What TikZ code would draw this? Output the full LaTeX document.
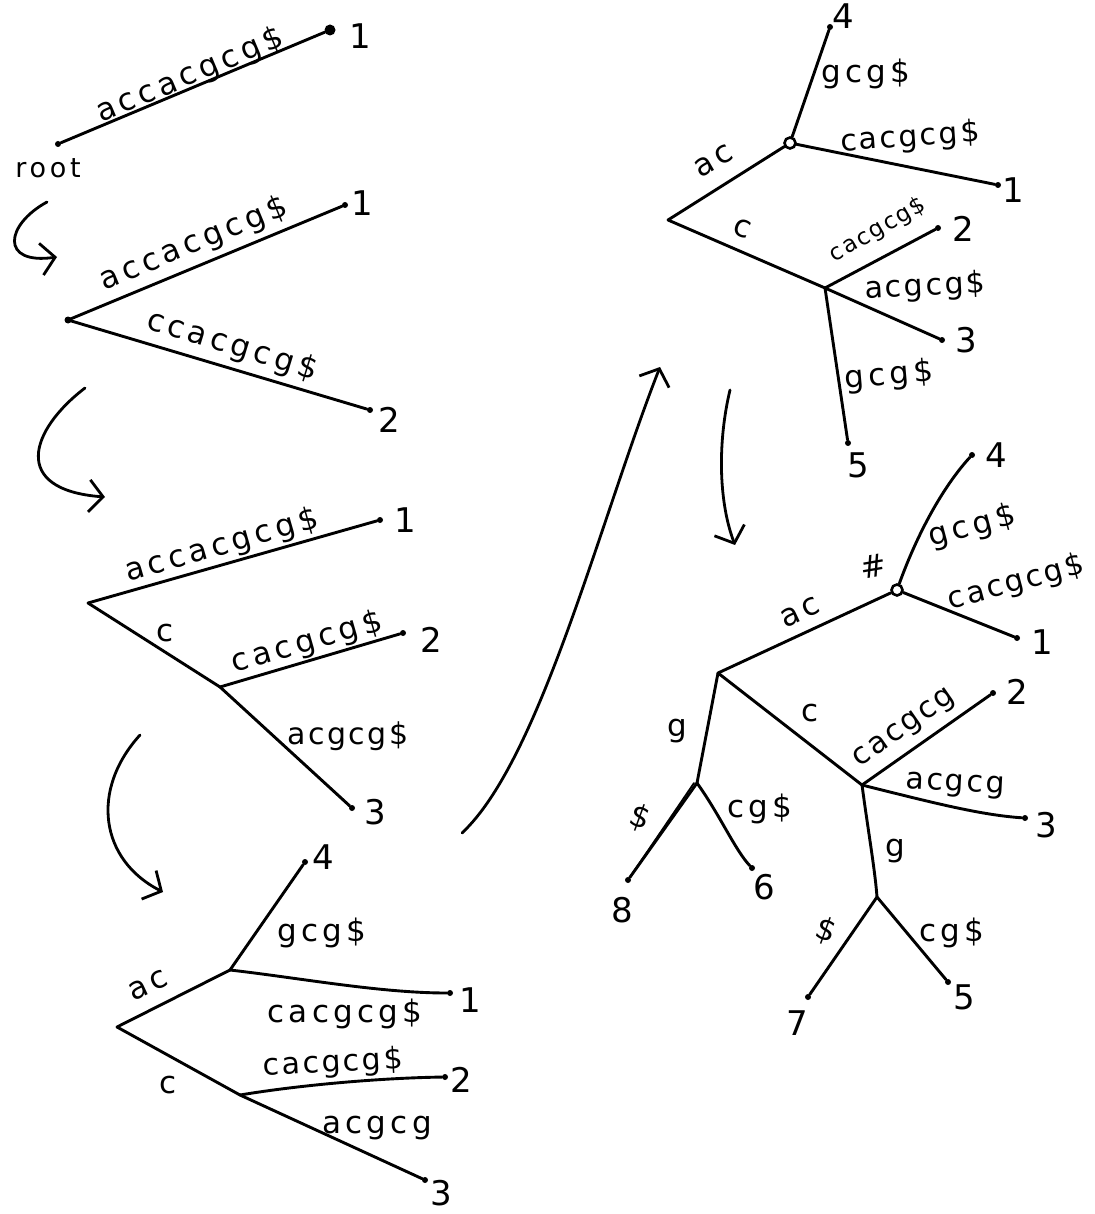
\documentclass[tikz,border=0pt]{standalone}
\usepackage{fontspec}
\setmainfont{DejaVu Sans}
\newfontfamily\hand[LetterSpace=14]{DejaVu Sans}
\newfontfamily\handtight[LetterSpace=8]{DejaVu Sans}
\usetikzlibrary{arrows.meta}
\begin{document}
\begin{tikzpicture}[x=1pt,y=-1pt,
  edge/.style={line width=2.9pt, line cap=round, line join=round},
  lab/.style={font=\hand\fontsize{31}{33}\selectfont, inner sep=0pt},
  tlab/.style={font=\handtight\fontsize{30}{32}\selectfont, inner sep=0pt},
  slab/.style={font=\handtight\fontsize{23}{25}\selectfont, inner sep=0pt},
  num/.style={font=\fontsize{34}{36}\selectfont, inner sep=0pt},
  dot/.style={circle, fill, inner sep=0pt, minimum size=6pt},
  bigdot/.style={circle, fill, inner sep=0pt, minimum size=11pt},
  ring/.style={circle, draw, line width=2.6pt, inner sep=0pt, minimum size=11pt},
  harrow/.style={line width=2.8pt, line cap=round, -{Straight Barb[length=14pt,width=32pt,line width=2.8pt]}}
]
\useasboundingbox[fill=white] (0,0) rectangle (1094,1214);

% ---------------- Tree 1 ----------------
\node[dot] (t1r) at (58,144) {};
\node[bigdot] (t1l1) at (330,30) {};
\node[num] (t1n1) at (360,36) {1};
\node[lab, font=\hand\fontsize{27}{29}\selectfont] (t1root) at (48,168) {root};
\node[lab, rotate=23] (t1e1) at (190,76) {accacgcg\$};
\draw[edge] (t1r) -- (t1l1);

% arrow 1
\coordinate (a1s) at (47,202);
\coordinate (a1e) at (57,257);
\draw[harrow] (a1s) .. controls (5,225) and (0,265) .. (a1e);

% ---------------- Tree 2 ----------------
\coordinate (t2r) at (68,320);
\node[dot] (t2l1) at (345,205) {};
\node[dot] (t2l2) at (370,410) {};
\node[num] (t2n1) at (362,203) {1};
\node[num] (t2n2) at (389,420) {2};
\node[lab, rotate=22.5] (t2e1) at (194,244) {accacgcg\$};
\node[lab, rotate=-17] (t2e2) at (232,346) {ccacgcg\$};
\draw[edge] (t2r) -- (t2l1);
\draw[edge] (t2r) -- (t2l2);
\fill (t2r) circle (3.5pt);

% arrow 2
\coordinate (a2s) at (85,388);
\coordinate (a2e) at (105,497);
\draw[harrow] (a2s) .. controls (30,430) and (10,490) .. (a2e);

% ---------------- Tree 3 ----------------
\coordinate (t3r) at (88,603);
\coordinate (t3a) at (220,687);
\node[dot] (t3l1) at (380,520) {};
\node[dot] (t3l2) at (403,633) {};
\node[dot] (t3l3) at (352,808) {};
\node[num] (t3n1) at (405,520) {1};
\node[num] (t3n2) at (431,640) {2};
\node[num] (t3n3) at (375,812) {3};
\node[lab, rotate=16] (t3e1) at (222,546) {accacgcg\$};
\node[lab] (t3ec) at (165,633) {c};
\node[lab, rotate=16] (t3e2) at (307,643) {cacgcg\$};
\node[tlab] (t3e3) at (348,736) {acgcg\$};
\draw[edge] (t3r) -- (t3l1);
\draw[edge] (t3r) -- (t3a);
\draw[edge] (t3a) -- (t3l2);
\draw[edge] (t3a) -- (t3l3);

% arrow 3
\coordinate (a3s) at (140,735);
\coordinate (a3e) at (163,892);
\draw[harrow] (a3s) .. controls (90,790) and (100,860) .. (a3e);

% ---------------- Tree 4 ----------------
\coordinate (t4r) at (117,1027);
\coordinate (t4a) at (230,970);
\coordinate (t4b) at (240,1095);
\node[dot] (t4l4) at (305,862) {};
\node[dot] (t4l1) at (450,993) {};
\node[dot] (t4l2) at (445,1077) {};
\node[dot] (t4l3) at (425,1180) {};
\node[num] (t4n4) at (323,857) {4};
\node[num] (t4n1) at (470,1000) {1};
\node[num] (t4n2) at (461,1080) {2};
\node[num] (t4n3) at (441,1193) {3};
\node[lab] (t4e4) at (322,933) {gcg\$};
\node[lab] (t4e1) at (345,1014) {cacgcg\$};
\node[lab, rotate=25] (t4eac) at (148,985) {ac};
\node[tlab, rotate=3] (t4e2) at (333,1064) {cacgcg\$};
\node[lab] (t4ec) at (168,1085) {c};
\node[lab] (t4e3) at (377,1128) {acgcg};
\draw[edge] (t4r) -- (t4a);
\draw[edge] (t4a) -- (t4l4);
\draw[edge] (t4a) .. controls (300,978) and (380,993) .. (t4l1);
\draw[edge] (t4r) -- (t4b);
\draw[edge] (t4b) .. controls (300,1085) and (380,1078) .. (t4l2);
\draw[edge] (t4b) -- (t4l3);

% arrow 4
\coordinate (a4s) at (462,833);
\coordinate (a4e) at (660,367);
\draw[harrow] (a4s) .. controls (540,760) and (600,520) .. (a4e);

% ---------------- Tree 5 ----------------
\coordinate (t5r) at (668,220);
\node[ring] (t5a) at (790,143) {};
\coordinate (t5b) at (825,288);
\node[dot] (t5l4) at (830,27) {};
\node[dot] (t5l1) at (998,185) {};
\node[dot] (t5l2) at (938,228) {};
\node[dot] (t5l3) at (942,340) {};
\node[dot] (t5l5) at (848,443) {};
\node[num] (t5n4) at (843,16) {4};
\node[num] (t5n1) at (1013,190) {1};
\node[num] (t5n2) at (963,229) {2};
\node[num] (t5n3) at (966,340) {3};
\node[num] (t5n5) at (858,465) {5};
\node[lab] (t5e4) at (866,74) {gcg\$};
\node[tlab, rotate=4] (t5e1) at (910,138) {cacgcg\$};
\node[lab, rotate=30] (t5eac) at (714,161) {ac};
\node[lab, rotate=-20] (t5ec) at (742,228) {c};
\node[slab, rotate=30] (t5e2) at (878,230) {cacgcg\$};
\node[tlab, rotate=3] (t5e3) at (925,287) {acgcg\$};
\node[lab, rotate=5] (t5e5) at (889,376) {gcg\$};
\draw[edge] (t5r) -- (t5a);
\draw[edge] (t5a) -- (t5l4);
\draw[edge] (t5a) -- (t5l1);
\draw[edge] (t5r) -- (t5b);
\draw[edge] (t5b) -- (t5l2);
\draw[edge] (t5b) -- (t5l3);
\draw[edge] (t5b) -- (t5l5);

% arrow 5
\coordinate (a5s) at (730,390);
\coordinate (a5e) at (735,545);
\draw[harrow] (a5s) .. controls (718,440) and (718,500) .. (a5e);

% ---------------- Tree 6 ----------------
\coordinate (t6r) at (718,673);
\node[ring] (t6a) at (897,590) {};
\coordinate (t6c) at (862,785);
\coordinate (t6d) at (697,783);
\coordinate (t6e) at (877,897);
\node[dot] (t6l4) at (972,455) {};
\node[dot] (t6l1) at (1017,638) {};
\node[dot] (t6l2) at (993,693) {};
\node[dot] (t6l3) at (1025,818) {};
\node[dot] (t6l8) at (628,880) {};
\node[dot] (t6l6) at (752,868) {};
\node[dot] (t6l7) at (808,997) {};
\node[dot] (t6l5) at (948,982) {};
\node[num] (t6n4) at (996,455) {4};
\node[num] (t6n1) at (1042,642) {1};
\node[num] (t6n2) at (1017,692) {2};
\node[num] (t6n3) at (1046,825) {3};
\node[num] (t6n8) at (622,910) {8};
\node[num] (t6n6) at (764,887) {6};
\node[num] (t6n7) at (797,1023) {7};
\node[num] (t6n5) at (964,997) {5};
\node[lab, rotate=10] (t6hash) at (873,566) {\#};
\node[lab, rotate=25] (t6eac) at (800,612) {ac};
\node[lab, rotate=15] (t6e4) at (972,527) {gcg\$};
\node[tlab, rotate=15] (t6e1) at (1016,583) {cacgcg\$};
\node[lab] (t6ec) at (810,713) {c};
\node[tlab, rotate=35] (t6e2) at (905,729) {cacgcg};
\node[tlab, rotate=-3] (t6e3) at (955,786) {acgcg};
\node[lab] (t6eg1) at (677,731) {g};
\node[lab, rotate=-20] (t6ed1) at (640,818) {\$};
\node[lab] (t6e6) at (760,809) {cg\$};
\node[lab] (t6eg2) at (895,851) {g};
\node[lab, rotate=-20] (t6ed2) at (826,931) {\$};
\node[lab] (t6e5) at (952,933) {cg\$};
\draw[edge] (t6r) -- (t6a);
\draw[edge] (t6a) .. controls (915,540) and (940,490) .. (t6l4);
\draw[edge] (t6a) -- (t6l1);
\draw[edge] (t6r) -- (t6c);
\draw[edge] (t6c) -- (t6l2);
\draw[edge] (t6c) .. controls (930,802) and (980,815) .. (t6l3);
\draw[edge] (t6r) -- (t6d);
\draw[edge] (t6d) -- (t6l8);
\draw[edge, line width=1.8pt] ([xshift=-3pt]t6d) -- ([shift={(-4pt,-3pt)}]t6l8);
\draw[edge] (t6d) .. controls (720,815) and (735,850) .. (t6l6);
\draw[edge] (t6c) .. controls (868,830) and (875,870) .. (t6e);
\draw[edge] (t6e) -- (t6l7);
\draw[edge] (t6e) -- (t6l5);
\end{tikzpicture}
\end{document}
